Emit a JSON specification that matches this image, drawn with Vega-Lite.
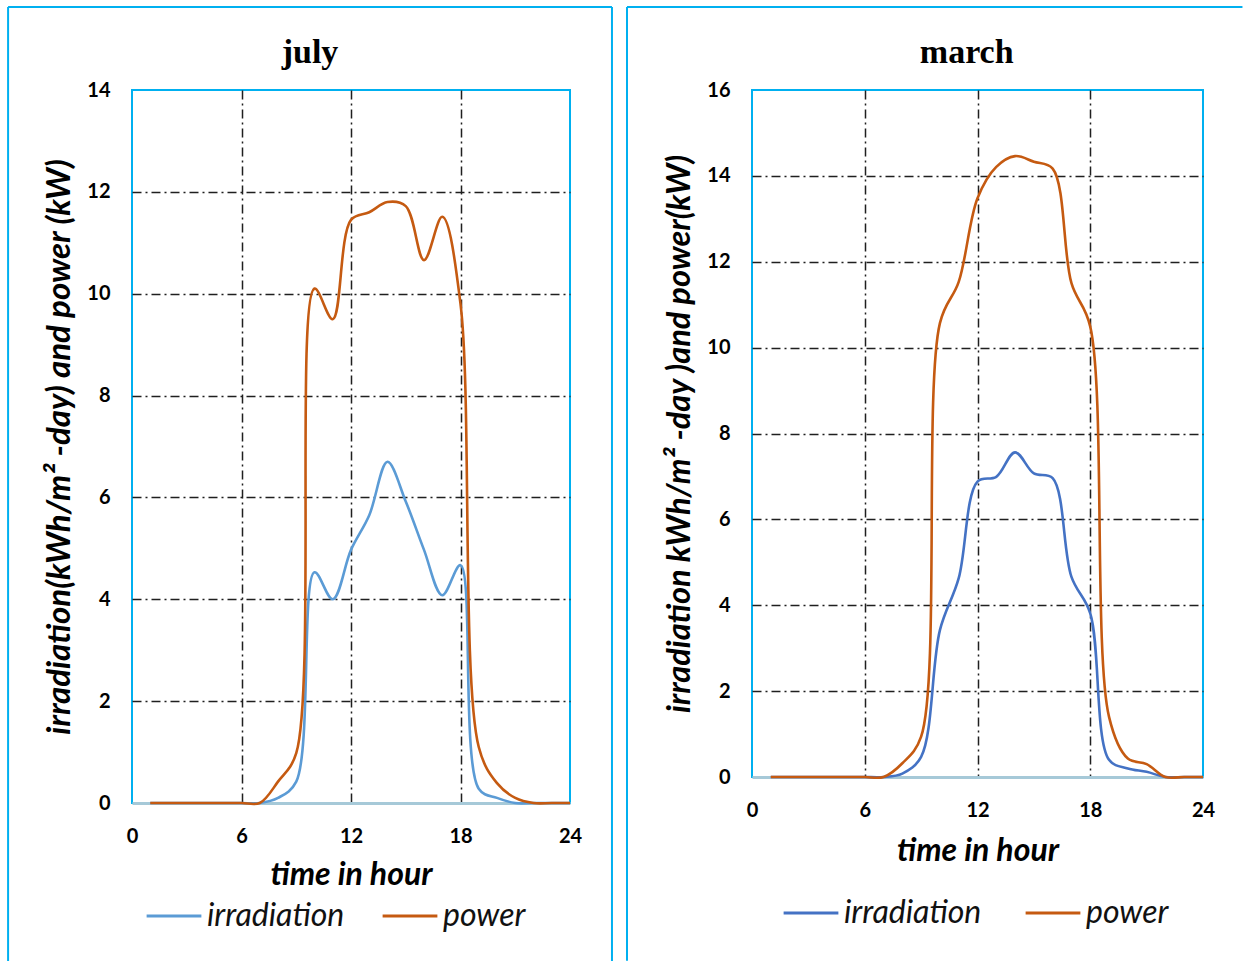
{
  "$schema": "https://vega.github.io/schema/vega-lite/v6.json",
  "background": "white",
  "padding": {"left": 6, "top": 4, "right": 0, "bottom": 0},
  "spacing": 10,
  "datasets": {
    "july": [
      {"hour": 1, "series": "irradiation", "value": 0}, {"hour": 2, "series": "irradiation", "value": 0},
      {"hour": 3, "series": "irradiation", "value": 0}, {"hour": 4, "series": "irradiation", "value": 0},
      {"hour": 5, "series": "irradiation", "value": 0}, {"hour": 6, "series": "irradiation", "value": 0},
      {"hour": 7, "series": "irradiation", "value": 0}, {"hour": 8, "series": "irradiation", "value": 0.1},
      {"hour": 9, "series": "irradiation", "value": 0.42}, {"hour": 10, "series": "irradiation", "value": 4.53},
      {"hour": 11, "series": "irradiation", "value": 4.0}, {"hour": 12, "series": "irradiation", "value": 4.97},
      {"hour": 13, "series": "irradiation", "value": 5.65}, {"hour": 14, "series": "irradiation", "value": 6.7},
      {"hour": 15, "series": "irradiation", "value": 5.92}, {"hour": 16, "series": "irradiation", "value": 4.97},
      {"hour": 17, "series": "irradiation", "value": 4.08}, {"hour": 18, "series": "irradiation", "value": 4.67},
      {"hour": 19, "series": "irradiation", "value": 0.28}, {"hour": 20, "series": "irradiation", "value": 0.1},
      {"hour": 21, "series": "irradiation", "value": 0}, {"hour": 22, "series": "irradiation", "value": 0},
      {"hour": 23, "series": "irradiation", "value": 0}, {"hour": 24, "series": "irradiation", "value": 0},
      {"hour": 1, "series": "power", "value": 0}, {"hour": 2, "series": "power", "value": 0},
      {"hour": 3, "series": "power", "value": 0}, {"hour": 4, "series": "power", "value": 0},
      {"hour": 5, "series": "power", "value": 0}, {"hour": 6, "series": "power", "value": 0},
      {"hour": 7, "series": "power", "value": 0}, {"hour": 8, "series": "power", "value": 0.42},
      {"hour": 9, "series": "power", "value": 0.98}, {"hour": 10, "series": "power", "value": 10.1},
      {"hour": 11, "series": "power", "value": 9.5}, {"hour": 12, "series": "power", "value": 11.45},
      {"hour": 13, "series": "power", "value": 11.6}, {"hour": 14, "series": "power", "value": 11.8},
      {"hour": 15, "series": "power", "value": 11.72}, {"hour": 16, "series": "power", "value": 10.66},
      {"hour": 17, "series": "power", "value": 11.51}, {"hour": 18, "series": "power", "value": 9.8},
      {"hour": 19, "series": "power", "value": 1.1}, {"hour": 20, "series": "power", "value": 0.39},
      {"hour": 21, "series": "power", "value": 0.1}, {"hour": 22, "series": "power", "value": 0},
      {"hour": 23, "series": "power", "value": 0}, {"hour": 24, "series": "power", "value": 0}
    ],
    "march": [
      {"hour": 1, "series": "irradiation", "value": 0}, {"hour": 2, "series": "irradiation", "value": 0},
      {"hour": 3, "series": "irradiation", "value": 0}, {"hour": 4, "series": "irradiation", "value": 0},
      {"hour": 5, "series": "irradiation", "value": 0}, {"hour": 6, "series": "irradiation", "value": 0},
      {"hour": 7, "series": "irradiation", "value": 0}, {"hour": 8, "series": "irradiation", "value": 0.08},
      {"hour": 9, "series": "irradiation", "value": 0.47}, {"hour": 10, "series": "irradiation", "value": 3.42},
      {"hour": 11, "series": "irradiation", "value": 4.63}, {"hour": 12, "series": "irradiation", "value": 6.88},
      {"hour": 13, "series": "irradiation", "value": 6.99}, {"hour": 14, "series": "irradiation", "value": 7.56},
      {"hour": 15, "series": "irradiation", "value": 7.07}, {"hour": 16, "series": "irradiation", "value": 6.96},
      {"hour": 17, "series": "irradiation", "value": 4.66}, {"hour": 18, "series": "irradiation", "value": 3.81},
      {"hour": 19, "series": "irradiation", "value": 0.4}, {"hour": 20, "series": "irradiation", "value": 0.2},
      {"hour": 21, "series": "irradiation", "value": 0.12}, {"hour": 22, "series": "irradiation", "value": 0},
      {"hour": 23, "series": "irradiation", "value": 0}, {"hour": 24, "series": "irradiation", "value": 0},
      {"hour": 1, "series": "power", "value": 0}, {"hour": 2, "series": "power", "value": 0},
      {"hour": 3, "series": "power", "value": 0}, {"hour": 4, "series": "power", "value": 0},
      {"hour": 5, "series": "power", "value": 0}, {"hour": 6, "series": "power", "value": 0},
      {"hour": 7, "series": "power", "value": 0}, {"hour": 8, "series": "power", "value": 0.32},
      {"hour": 9, "series": "power", "value": 0.94}, {"hour": 10, "series": "power", "value": 10.57},
      {"hour": 11, "series": "power", "value": 11.53}, {"hour": 12, "series": "power", "value": 13.48},
      {"hour": 13, "series": "power", "value": 14.21}, {"hour": 14, "series": "power", "value": 14.46},
      {"hour": 15, "series": "power", "value": 14.33}, {"hour": 16, "series": "power", "value": 14.17},
      {"hour": 17, "series": "power", "value": 11.5}, {"hour": 18, "series": "power", "value": 10.49},
      {"hour": 19, "series": "power", "value": 1.4}, {"hour": 20, "series": "power", "value": 0.43},
      {"hour": 21, "series": "power", "value": 0.3}, {"hour": 22, "series": "power", "value": 0},
      {"hour": 23, "series": "power", "value": 0}, {"hour": 24, "series": "power", "value": 0}
    ]
  },
  "hconcat": [
    {
      "width": 438,
      "height": 713,
      "title": {"text": "july", "offset": -64},
      "layer": [
        {
          "data": {"name": "july"},
          "mark": {"type": "line", "interpolate": "catmull-rom", "strokeWidth": 2.6},
          "encoding": {
            "x": {
              "field": "hour", "type": "quantitative",
              "scale": {"domain": [0, 24], "nice": false},
              "axis": {
                "values": [0, 6, 12, 18, 24], "title": "time in hour",
                "domain": true, "domainColor": "#a6c9d8", "domainWidth": 3,
                "labelFlush": false, "labelPadding": 23, "titlePadding": 13.5, "titleFontSize": 32,
                "gridColor": {"condition": {"test": "datum.value === 0 || datum.value === 24", "value": "transparent"}, "value": "#1f1f1f"}
              }
            },
            "y": {
              "field": "value", "type": "quantitative",
              "scale": {"domain": [0, 14], "nice": false},
              "axis": {
                "values": [0, 2, 4, 6, 8, 10, 12, 14],
                "title": "irradiation(kWh/m²  -day) and power (kW)",
                "labelPadding": 22, "titlePadding": 10, "titleFontSize": 33,
                "gridColor": {"condition": {"test": "datum.value === 0 || datum.value === 14", "value": "transparent"}, "value": "#1f1f1f"}
              }
            },
            "color": {
              "field": "series", "type": "nominal",
              "scale": {"domain": ["irradiation", "power"], "range": ["#5b9bd5", "#c55a11"]},
              "legend": {"orient": "none", "legendX": 13, "legendY": 797, "direction": "horizontal", "title": null, "columnPadding": 31}
            }
          }
        },
        {
          "data": {"values": [{}]},
          "mark": {"type": "rule", "color": "#00b0f0", "strokeWidth": 2},
          "encoding": {
            "x": {"datum": -6.79, "type": "quantitative", "scale": {"domain": [0, 24], "nice": false}},
            "x2": {"datum": 26.3},
            "y": {"datum": 15.63, "type": "quantitative", "scale": {"domain": [0, 14], "nice": false}}
          }
        },
        {
          "data": {"values": [{}]},
          "mark": {"type": "rule", "color": "#00b0f0", "strokeWidth": 2},
          "encoding": {
            "x": {"datum": -6.79, "type": "quantitative", "scale": {"domain": [0, 24], "nice": false}},
            "y": {"datum": 15.63, "type": "quantitative", "scale": {"domain": [0, 14], "nice": false}},
            "y2": {"datum": -3.1}
          }
        },
        {
          "data": {"values": [{}]},
          "mark": {"type": "rule", "color": "#00b0f0", "strokeWidth": 2},
          "encoding": {
            "x": {"datum": 26.3, "type": "quantitative", "scale": {"domain": [0, 24], "nice": false}},
            "y": {"datum": 15.63, "type": "quantitative", "scale": {"domain": [0, 14], "nice": false}},
            "y2": {"datum": -3.1}
          }
        }
      ]
    },
    {
      "width": 451,
      "height": 687,
      "title": {"text": "march", "offset": -64, "dx": 32},
      "layer": [
        {
          "data": {"name": "march"},
          "mark": {"type": "line", "interpolate": "catmull-rom", "strokeWidth": 2.6},
          "encoding": {
            "x": {
              "field": "hour", "type": "quantitative",
              "scale": {"domain": [0, 24], "nice": false},
              "axis": {
                "values": [0, 6, 12, 18, 24], "title": "time in hour",
                "domain": true, "domainColor": "#a6c9d8", "domainWidth": 3,
                "labelFlush": false, "labelPadding": 23, "titlePadding": 15.5, "titleFontSize": 32,
                "gridColor": {"condition": {"test": "datum.value === 0 || datum.value === 24", "value": "transparent"}, "value": "#1f1f1f"}
              }
            },
            "y": {
              "field": "value", "type": "quantitative",
              "scale": {"domain": [0, 16], "nice": false},
              "axis": {
                "values": [0, 2, 4, 6, 8, 10, 12, 14, 16],
                "title": "irradiation kWh/m²  -day )and power(kW)",
                "labelPadding": 22, "titlePadding": 10, "titleFontSize": 32.5,
                "gridColor": {"condition": {"test": "datum.value === 0 || datum.value === 16", "value": "transparent"}, "value": "#1f1f1f"}
              }
            },
            "color": {
              "field": "series", "type": "nominal",
              "scale": {"domain": ["irradiation", "power"], "range": ["#4472c4", "#c55a11"]},
              "legend": {"orient": "none", "legendX": 30, "legendY": 794, "direction": "horizontal", "title": null, "columnPadding": 37}
            }
          }
        },
        {
          "data": {"values": [{}]},
          "mark": {"type": "rule", "color": "#00b0f0", "strokeWidth": 2},
          "encoding": {
            "x": {"datum": -6.652, "type": "quantitative", "scale": {"domain": [0, 24], "nice": false}},
            "x2": {"datum": 26.1},
            "y": {"datum": 17.933, "type": "quantitative", "scale": {"domain": [0, 16], "nice": false}}
          }
        },
        {
          "data": {"values": [{}]},
          "mark": {"type": "rule", "color": "#00b0f0", "strokeWidth": 2},
          "encoding": {
            "x": {"datum": -6.652, "type": "quantitative", "scale": {"domain": [0, 24], "nice": false}},
            "y": {"datum": 17.933, "type": "quantitative", "scale": {"domain": [0, 16], "nice": false}},
            "y2": {"datum": -4.28}
          }
        }
      ]
    }
  ],
  "resolve": {
    "scale": {"x": "independent", "y": "independent", "color": "independent"},
    "legend": {"color": "independent"}
  },
  "config": {
    "view": {"stroke": "#00b0f0", "strokeWidth": 2},
    "title": {
      "font": "Liberation Serif", "fontSize": 34, "fontWeight": "bold", "color": "#000000",
      "anchor": "middle", "frame": "bounds"
    },
    "axis": {
      "labelFont": "Lato", "labelFontSize": 20, "labelFontWeight": "bold", "labelColor": "#000000",
      "titleFont": "Lato", "titleFontSize": 31, "titleFontWeight": "bold", "titleFontStyle": "italic", "titleColor": "#000000",
      "ticks": false, "domain": false,
      "grid": true, "gridDash": [9, 4, 2, 4], "gridWidth": 1.5, "gridOpacity": 1
    },
    "legend": {
      "labelFont": "Lato", "labelFontSize": 32, "labelFontStyle": "italic", "labelColor": "#111111",
      "symbolType": "stroke", "symbolSize": 3000, "symbolStrokeWidth": 3,
      "labelOffset": 4, "padding": 0, "labelLimit": 400
    }
  }
}
